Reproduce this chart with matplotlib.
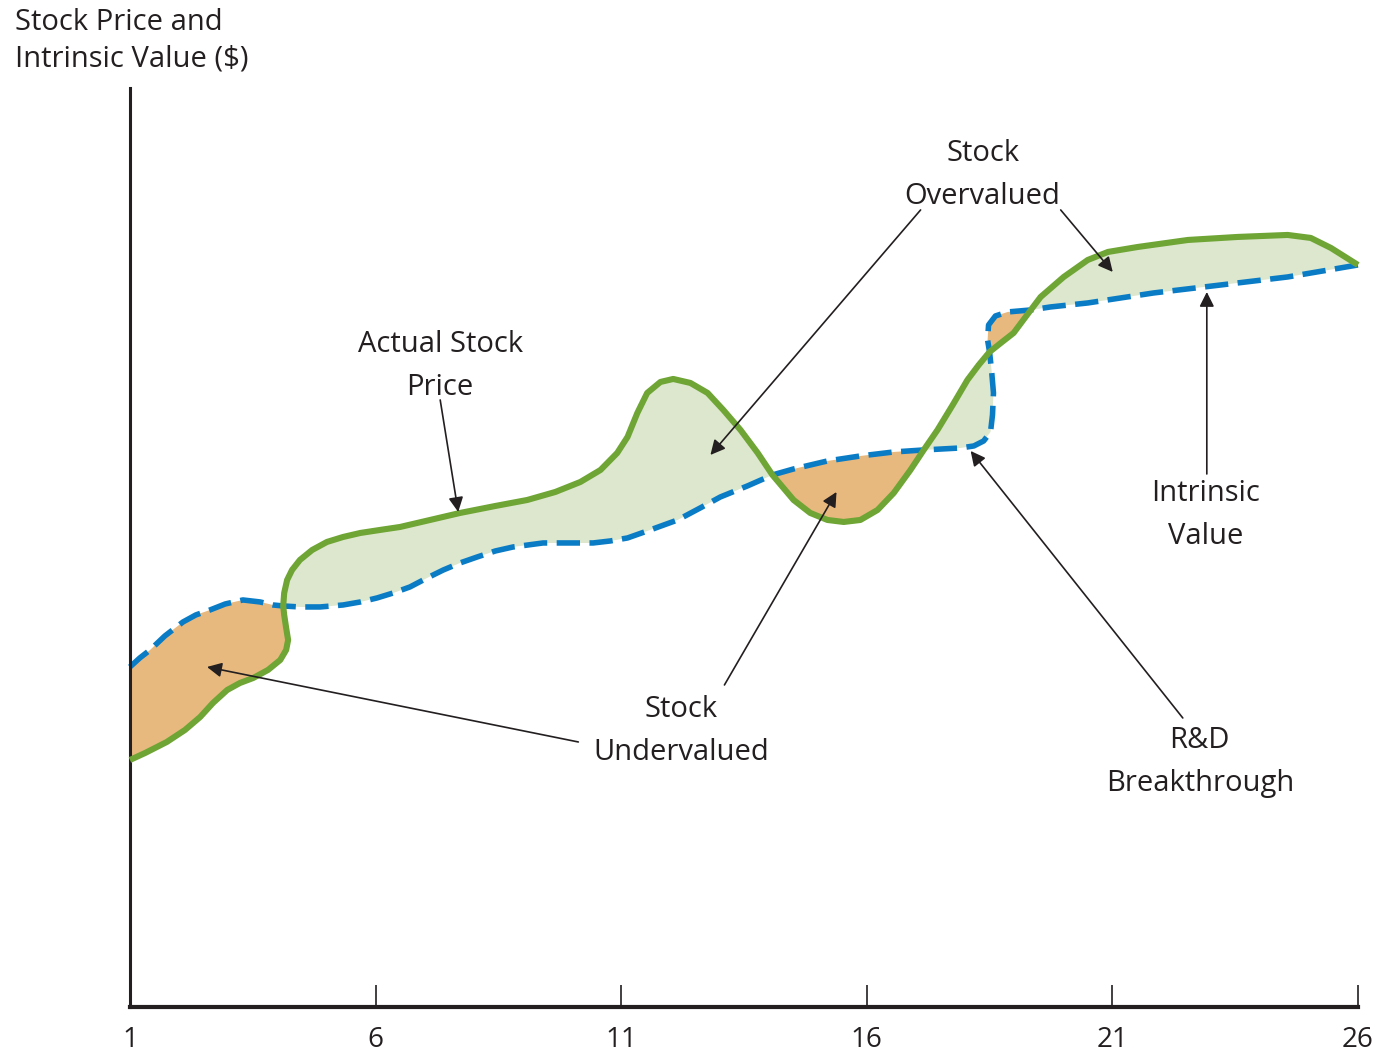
import numpy as np
import matplotlib.pyplot as plt

# period (x) and $ value (y)
value_x = [1.00, 1.20, 1.41, 1.71, 2.08, 2.34, 2.63, 2.94, 3.30, 3.65, 3.91, 4.12,
           4.46, 4.87, 5.34, 5.69, 6.03, 6.36, 6.70, 7.05, 7.38, 7.72, 8.07, 8.44,
           8.80, 9.41, 9.96, 10.43, 10.78, 11.13, 11.59, 12.15, 12.61, 13.02, 13.57,
           14.08, 14.51, 15.20, 15.87, 16.55, 17.16, 17.91, 18.18, 18.38, 18.52,
           18.56, 18.58, 18.54, 18.50, 18.46, 18.48, 18.62, 18.87, 19.34, 19.74,
           20.50, 21.84, 23.21, 24.57, 26.00]
value_y = [34.0, 34.9, 35.7, 37.1, 38.5, 39.2, 39.7, 40.3, 40.7, 40.5, 40.2, 40.1,
           40.0, 40.0, 40.2, 40.5, 40.9, 41.4, 42.0, 42.9, 43.7, 44.4, 45.0, 45.6,
           46.0, 46.4, 46.4, 46.4, 46.6, 46.9, 47.7, 48.7, 49.9, 51.0, 52.1,
           53.2, 53.8, 54.6, 55.1, 55.5, 55.7, 55.9, 56.1, 56.6, 57.5,
           59.2, 61.4, 63.7, 65.5, 66.7, 68.2, 69.1, 69.5, 69.7, 70.0,
           70.4, 71.4, 72.2, 73.0, 74.2]

price_x = [1.00, 1.31, 1.75, 2.12, 2.43, 2.69, 2.98, 3.24, 3.51, 3.81, 4.06, 4.18,
           4.22, 4.18, 4.14, 4.12, 4.14, 4.20, 4.30, 4.46, 4.71, 5.01, 5.34, 5.69,
           6.09, 6.50, 7.11, 7.72, 8.44, 9.09, 9.66, 10.17, 10.58, 10.92, 11.13,
           11.33, 11.53, 11.80, 12.06, 12.41, 12.76, 13.08, 13.43, 13.78, 14.08,
           14.51, 14.85, 15.20, 15.53, 15.87, 16.22, 16.55, 16.89, 17.16, 17.44,
           17.75, 18.05, 18.28, 18.50, 18.73, 18.99, 19.34, 19.54, 20.01, 20.50,
           20.91, 21.52, 22.54, 23.55, 24.57, 25.04, 25.45, 26.00]
price_y = [24.7, 25.4, 26.5, 27.7, 29.0, 30.4, 31.7, 32.4, 32.9, 33.7, 34.7, 35.7,
           36.7, 37.9, 39.2, 40.1, 41.4, 42.7, 43.7, 44.7, 45.7, 46.5, 47.0, 47.4,
           47.7, 48.0, 48.7, 49.4, 50.1, 50.7, 51.5, 52.5, 53.7, 55.4, 57.0,
           59.4, 61.4, 62.5, 62.8, 62.4, 61.4, 59.7, 57.7, 55.4, 53.2,
           50.7, 49.4, 48.7, 48.5, 48.7, 49.7, 51.4, 53.7, 55.7, 57.7,
           60.2, 62.7, 64.2, 65.5, 66.4, 67.4, 69.7, 71.0, 73.0, 74.7,
           75.5, 76.0, 76.7, 77.0, 77.2, 76.9, 75.9, 74.2]

# points where price and value cross (and the two ends)
cross_x = [1.00, 4.12, 14.08, 17.16, 18.50, 19.34, 26.00]
cross_y = [None, 40.1, 53.2, 55.7, 65.5, 69.7, 74.2]
over = [False, True, False, True, False, True]

ticks = [1, 6, 11, 16, 21, 26]

ink = '#231f20'
green = '#6ea535'
blue = '#0a7cc6'
fill_over = '#dde7cd'
fill_under = '#e8b97f'

plt.rcParams['font.family'] = ['Open Sans', 'DejaVu Sans']

fig = plt.figure(figsize=(13.81, 10.52), dpi=100)
ax = fig.add_axes([0.0941, 0.0428, 0.8892, 0.8736])

vx, vy = np.array(value_x), np.array(value_y)
px, py = np.array(price_x), np.array(price_y)


def idx(xs, ys, x0, y0):
    if y0 is None:
        return int(np.argmin(np.abs(xs - x0)))
    return int(np.argmin(np.hypot(xs - x0, ys - y0)))


# shaded gaps between the two lines
for k in range(len(cross_x) - 1):
    a1 = idx(px, py, cross_x[k], cross_y[k])
    b1 = idx(px, py, cross_x[k + 1], cross_y[k + 1])
    a2 = idx(vx, vy, cross_x[k], cross_y[k])
    b2 = idx(vx, vy, cross_x[k + 1], cross_y[k + 1])
    poly_x = np.concatenate([px[a1:b1 + 1], vx[a2:b2 + 1][::-1]])
    poly_y = np.concatenate([py[a1:b1 + 1], vy[a2:b2 + 1][::-1]])
    ax.fill(poly_x, poly_y, color=fill_over if over[k] else fill_under,
            lw=0, zorder=1)

ax.plot(vx, vy, color=blue, lw=4.0, linestyle=(0, (4.2, 1.7)),
        dash_capstyle='butt', zorder=2, clip_on=False)
ax.plot(px, py, color=green, lw=4.4, solid_capstyle='butt',
        solid_joinstyle='round', zorder=3, clip_on=False)

ax.set_xlim(1, 26)
ax.set_ylim(0, 91.9)
ax.spines['top'].set_visible(False)
ax.spines['right'].set_visible(False)
ax.spines['left'].set_linewidth(2.2)
ax.spines['bottom'].set_linewidth(3.0)
ax.spines['left'].set_color(ink)
ax.spines['bottom'].set_color(ink)
ax.set_yticks([])
ax.set_xticks(ticks)
ax.set_xticklabels([str(t) for t in ticks])
ax.tick_params(axis='x', direction='in', length=16, width=1.2, color=ink,
               labelsize=20, labelcolor=ink, pad=14)

fig.text(15 / 1381, 1 - 8 / 1052, 'Stock Price and\nIntrinsic Value ($)',
         ha='left', va='top', fontsize=21, color=ink, linespacing=1.33)

arrow = dict(arrowstyle='-|>', color=ink, lw=1.2, mutation_scale=22,
             shrinkA=0, shrinkB=0)
text_kw = dict(ha='center', va='center', fontsize=21, color=ink,
               linespacing=1.64)


def to_data(x_pix, y_pix):
    return 1 + (x_pix - 130) / 49.08, (1007 - y_pix) / 10


def note(label, pos, arrows):
    ax.text(*to_data(*pos), label, **text_kw, zorder=5)
    for start, end in arrows:
        ax.annotate('', xy=to_data(*end), xytext=to_data(*start),
                    arrowprops=arrow, zorder=6)


note('Actual Stock\nPrice', (440, 366), [((440, 400), (458, 512))])
note('Stock\nOvervalued', (982, 175), [((920, 210), (710, 455)),
                                       ((1060, 210), (1112, 272))])
note('Stock\nUndervalued', (681, 731), [((578, 742), (207, 667)),
                                        ((724, 685), (836, 492))])
note('R&D\nBreakthrough', (1199, 762), [((1182, 718), (970, 451))])
note('Intrinsic\nValue', (1205, 515), [((1206, 474), (1206, 292))])

fig.savefig('out.png', dpi=100)
